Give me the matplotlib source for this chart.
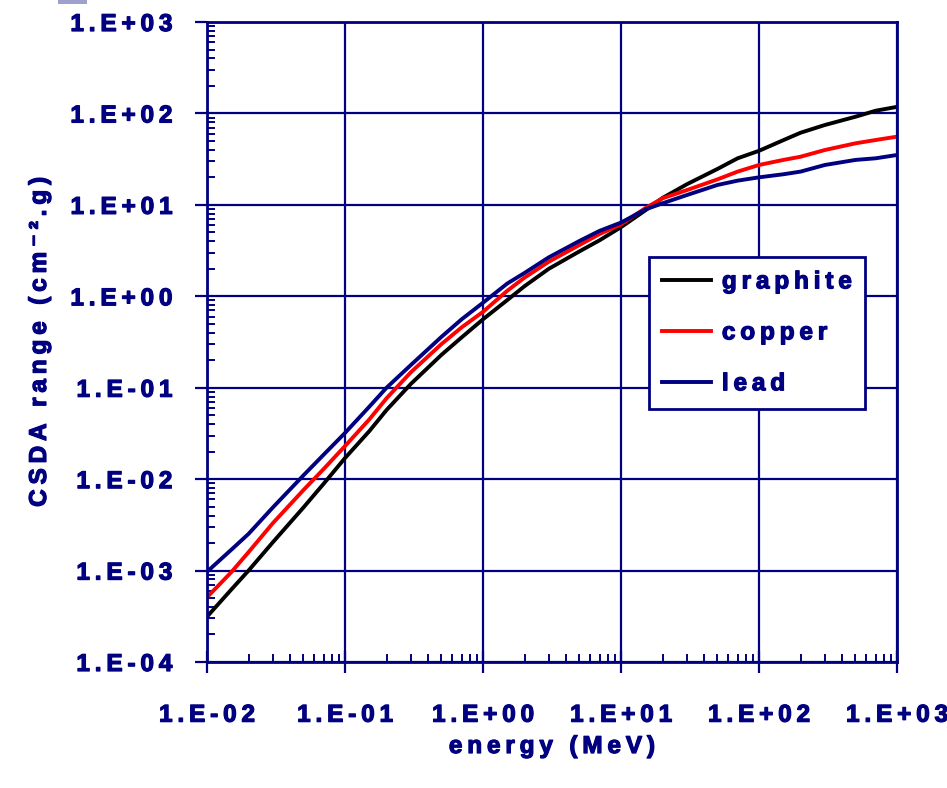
import numpy as np
import matplotlib
matplotlib.use("Agg")
import matplotlib.pyplot as plt
import matplotlib.patheffects as pe
from matplotlib.ticker import LogLocator, FuncFormatter, NullFormatter
from matplotlib.patches import Rectangle

# ---- data ----
energy = [0.01, 0.015, 0.02, 0.03, 0.05, 0.07, 0.1, 0.15, 0.2, 0.3, 0.5, 0.7,
          1.0, 1.5, 2.0, 3.0, 5.0, 7.0, 10.0, 15.0, 20.0, 30.0, 50.0, 70.0,
          100.0, 150.0, 200.0, 300.0, 500.0, 700.0, 1000.0]
graphite = [3.13e-4, 6.2e-4, 1.0e-3, 2.04e-3, 4.9e-3, 8.9e-3, 0.017, 0.0335, 0.057, 0.11, 0.229, 0.355,
            0.56, 0.91, 1.29, 2.0, 3.1, 4.1, 5.7, 8.7, 11.9, 16.8, 24.7, 32.3,
            39.0, 51.0, 61.5, 74.7, 92.0, 107.0, 118.0]
copper = [5.1e-4, 9.6e-4, 1.59e-3, 3.3e-3, 7.6e-3, 0.0129, 0.023, 0.045, 0.0766, 0.1475, 0.30, 0.457,
          0.676, 1.15, 1.6, 2.39, 3.64, 4.8, 6.1, 9.2, 11.8, 14.5, 19.0, 23.1,
          27.3, 31.0, 33.6, 39.8, 47.1, 51.2, 55.7]
lead = [9.7e-4, 1.69e-3, 2.52e-3, 4.9e-3, 0.011, 0.0185, 0.032, 0.062, 0.1, 0.177, 0.36, 0.56,
        0.85, 1.38, 1.8, 2.67, 4.03, 5.2, 6.4, 8.9, 10.4, 12.8, 16.5, 18.4,
        20.0, 21.6, 23.1, 27.3, 31.0, 32.3, 35.1]
series_names = ["graphite", "copper", "lead"]
series_colors = ["#000000", "#ff0000", "#000080"]
xlabel = "energy (MeV)"
ylabel = "CSDA range (cm\u207b\u00b2.g)"

NAVY = "#000080"
TS = "\u2009"  # thin space for letter spacing
FAM = ['Liberation Sans', 'DejaVu Sans']
THICK = [pe.withStroke(linewidth=0.9, foreground=NAVY)]

plt.rcParams['font.family'] = FAM
plt.rcParams['font.weight'] = 'bold'

W, H = 947, 788
fig = plt.figure(figsize=(W / 100, H / 100), dpi=100)
ax = fig.add_axes([207 / W, 1 - 662 / H, (897 - 207) / W, (662 - 22) / H])

for y, name, col in zip([graphite, copper, lead], series_names, series_colors):
    ax.plot(energy, y, color=col, lw=2.8, label=TS.join(name))

ax.set_xscale('log')
ax.set_yscale('log')
ax.set_xlim(1e-2, 1e3)
ax.set_ylim(1e-4, 1e3)

def sci(v, pos):
    e = int(round(np.log10(v)))
    s = "1.E%s%02d" % ("+" if e >= 0 else "-", abs(e))
    return TS.join(s)

for axis in (ax.xaxis, ax.yaxis):
    axis.set_major_locator(LogLocator(base=10, numticks=20))
    axis.set_minor_locator(LogLocator(base=10, subs=np.arange(2, 10), numticks=20))
    axis.set_major_formatter(FuncFormatter(sci))
    axis.set_minor_formatter(NullFormatter())

ax.grid(True, which='major', color=NAVY, lw=1.6)
ax.set_axisbelow(True)
for sp in ax.spines.values():
    sp.set_color(NAVY)
    sp.set_linewidth(2)

ax.tick_params(axis='x', which='major', direction='inout', length=16, width=1.6,
               color=NAVY, labelcolor=NAVY, labelsize=17.5, pad=22)
ax.tick_params(axis='x', which='minor', direction='in', length=6, width=1.4, color=NAVY)
ax.tick_params(axis='y', which='major', direction='out', length=9, width=1.6,
               color=NAVY, labelcolor=NAVY, labelsize=17.5, pad=16)
ax.tick_params(axis='y', which='minor', direction='in', length=6, width=1.4, color=NAVY)
for lab in ax.get_xticklabels() + ax.get_yticklabels():
    lab.set_fontweight('bold')
    lab.set_path_effects(THICK)

xl = ax.set_xlabel(TS.join(xlabel), color=NAVY, fontsize=17.5, fontweight='bold', labelpad=6)
yl = ax.set_ylabel(TS.join(ylabel), color=NAVY, fontsize=17.5, fontweight='bold', labelpad=14)
xl.set_path_effects(THICK)
yl.set_path_effects(THICK)

leg = ax.legend(loc='upper left', bbox_to_anchor=((649 - 207) / 690, 1 - (257 - 22) / 640),
                borderaxespad=0, fancybox=False, framealpha=1, edgecolor=NAVY,
                fontsize=17.5, handlelength=2.0, labelspacing=1.15, borderpad=0.55,
                handletextpad=0.45)
leg.get_frame().set_linewidth(2)
for t in leg.get_texts():
    t.set_color(NAVY)
    t.set_fontweight('bold')
    t.set_path_effects(THICK)

fig.patches.append(Rectangle((58 / W, 1 - 4 / H), 29 / W, 4 / H, transform=fig.transFigure,
                             facecolor="#a0a0d0", edgecolor='none'))

fig.savefig("out.png", dpi=100)
